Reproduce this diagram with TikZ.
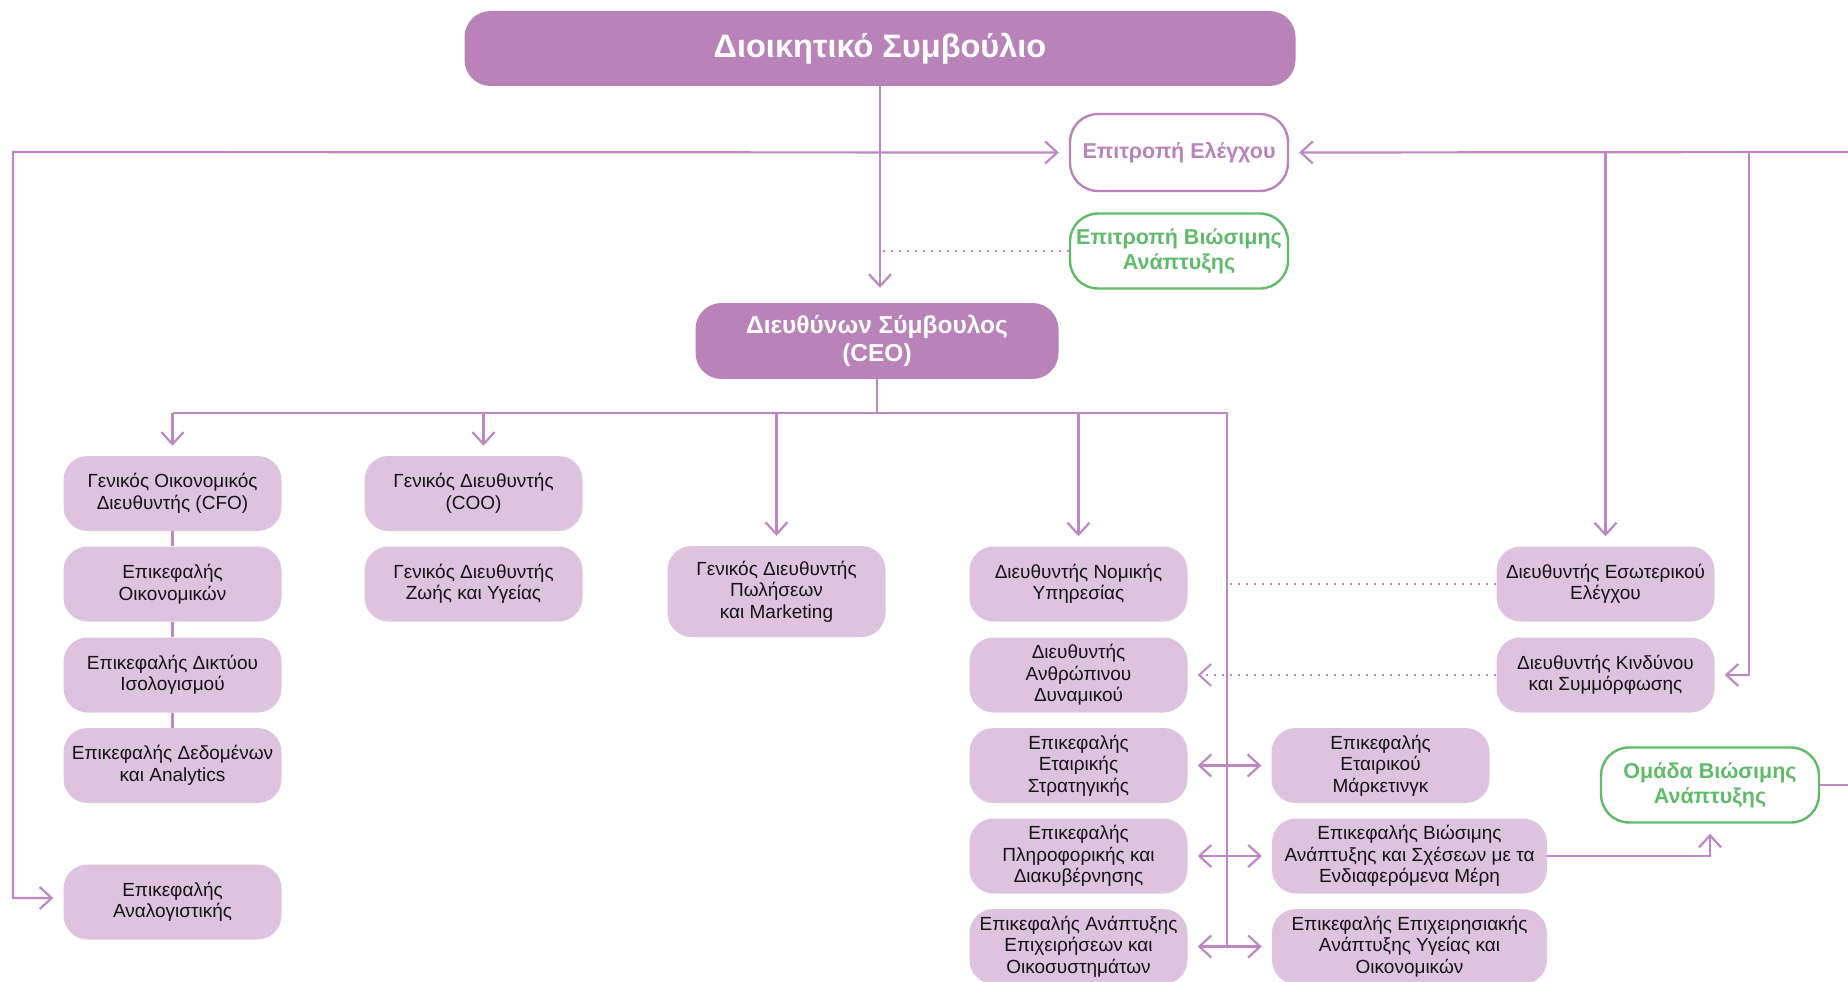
\documentclass[tikz,border=0pt]{standalone}
\usepackage{fontspec}
\setmainfont{Liberation Sans}
\usepackage{tikz}
\usetikzlibrary{arrows.meta,positioning,calc}
\definecolor{BoardPurple}{RGB}{185,130,185}
\definecolor{UnitLilac}{RGB}{221,195,223}
\definecolor{LinkPurple}{RGB}{190,135,195}
\definecolor{EsgGreen}{RGB}{95,187,105}
\definecolor{UnitText}{RGB}{20,20,20}

\tikzset{
  headbox/.style={fill=BoardPurple,text=white,rounded corners=26pt,align=center,inner sep=0pt,
    font=\bfseries\fontsize{32.5}{36}\selectfont},
  unitbox/.style={fill=UnitLilac,text=UnitText,rounded corners=24pt,align=center,inner sep=0pt,
    minimum width=218pt,minimum height=75pt,font=\fontsize{19}{21.5}\selectfont},
  cttbox/.style={fill=white,draw=#1,text=#1,line width=2.4pt,rounded corners=28pt,align=center,
    inner sep=0pt,minimum width=218pt,minimum height=75pt,font=\bfseries\fontsize{21.5}{25}\selectfont},
  link/.style={LinkPurple,line width=2.2pt},
  dotlink/.style={LinkPurple,line width=2pt,dash pattern=on 2pt off 6pt},
  arr/.style={link,->,shorten >=10pt},
  both/.style={link,<->,shorten >=10pt,shorten <=10pt}
}

\begin{document}
\begin{tikzpicture}[x=1pt,y=-1pt,>={Straight Barb[length=12pt,width=22pt]}]
  \useasboundingbox (0,0) rectangle (1848,982);
  \clip (0,0) rectangle (1848,982);

  \node[headbox,minimum width=831pt,minimum height=75pt] (board) at (880,48.5) {Διοικητικό Συμβούλιο};
  \node[headbox,minimum width=363pt,minimum height=76pt,font=\bfseries\fontsize{24.5}{28}\selectfont]
    (ceo) at (877,341) {Διευθύνων Σύμβουλος\\(CEO)};
  \node[cttbox=BoardPurple,minimum height=77pt] (audit) at (1179,152.5) {Επιτροπή Ελέγχου};
  \node[cttbox=EsgGreen] (sustcom) at (1179,251) {Επιτροπή Βιώσιμης\\Ανάπτυξης};

  \node[unitbox] (cfo) at (172.5,493.5) {Γενικός Οικονομικός\\Διευθυντής (CFO)};
  \node[unitbox] (fin) at (172.5,584) {Επικεφαλής\\Οικονομικών};
  \node[unitbox] (bal) at (172.5,675) {Επικεφαλής Δικτύου\\Ισολογισμού};
  \node[unitbox] (data) at (172.5,765.5) {Επικεφαλής Δεδομένων\\και Analytics};
  \node[unitbox] (act) at (172.5,902) {Επικεφαλής\\Αναλογιστικής};

  \node[unitbox] (coo) at (473.5,493.5) {Γενικός Διευθυντής\\(COO)};
  \node[unitbox] (life) at (473.5,584) {Γενικός Διευθυντής\\Ζωής και Υγείας};
  \node[unitbox,minimum height=91pt] (sales) at (776.5,591.5) {Γενικός Διευθυντής\\Πωλήσεων\\και Marketing};

  \node[unitbox] (legal) at (1078.5,584) {Διευθυντής Νομικής\\Υπηρεσίας};
  \node[unitbox] (hr) at (1078.5,675) {Διευθυντής\\Ανθρώπινου\\Δυναμικού};
  \node[unitbox] (strat) at (1078.5,765.5) {Επικεφαλής\\Εταιρικής\\Στρατηγικής};
  \node[unitbox] (it) at (1078.5,856) {Επικεφαλής\\Πληροφορικής και\\Διακυβέρνησης};
  \node[unitbox] (bizdev) at (1078.5,946.5) {Επικεφαλής Ανάπτυξης\\Επιχειρήσεων και\\Οικοσυστημάτων};

  \node[unitbox] (mkt) at (1380.5,765.5) {Επικεφαλής\\Εταιρικού\\Μάρκετινγκ};
  \node[unitbox,minimum width=275pt] (esg) at (1409.5,856) {Επικεφαλής Βιώσιμης\\Ανάπτυξης και Σχέσεων με τα\\Ενδιαφερόμενα Μέρη};
  \node[unitbox,minimum width=275pt] (health) at (1409.5,946.5) {Επικεφαλής Επιχειρησιακής\\Ανάπτυξης Υγείας και\\Οικονομικών};

  \node[unitbox] (intaudit) at (1605.5,584) {Διευθυντής Εσωτερικού\\Ελέγχου};
  \node[unitbox] (risk) at (1605.5,675) {Διευθυντής Κινδύνου\\και Συμμόρφωσης};
  \node[cttbox=EsgGreen] (esgteam) at (1710,785) {Ομάδα Βιώσιμης\\Ανάπτυξης};

  \coordinate (lft) at (13,152);
  \coordinate (rgt) at (1848,152);
  \coordinate (rskx) at (1749,152);
  \coordinate (busL) at (172.5,413);
  \coordinate (busR) at (1227,413);
  \coordinate (esgout) at (1848,785);

  \draw[arr,shorten >=15pt] (board) -- (board.south |- ceo.north);
  \draw[dotlink] (sustcom.west) -- (sustcom.west -| board.south);
  \draw[both] ([yshift=4pt]act.west) -| (lft) -- (audit.west);
  \draw[arr] (rgt) -- (audit.east);
  \draw[arr] (intaudit.north |- rgt) -- (intaudit.north);
  \draw[arr] (rskx) |- (risk.east);

  \draw[link] (ceo) -- (ceo.south |- busL);
  \draw[link] (busL) -- (busR) -- (busR |- bizdev);
  \draw[arr] (busL) -- (cfo);
  \draw[arr] ([xshift=10pt]coo.north |- busL) -- ([xshift=10pt]coo.north);
  \draw[arr] (sales.north |- busL) -- (sales);
  \draw[arr] (legal.north |- busL) -- (legal);
  \draw[link] (cfo) -- (fin) -- (bal) -- (data);

  \draw[dotlink] (intaudit.west) -- (intaudit.west -| busR);
  \draw[dotlink,->,shorten >=10pt] (risk.west) -- (hr.east);
  \draw[both] (strat) -- (mkt);
  \draw[both] (it) -- (esg);
  \draw[both] (bizdev) -- (health);
  \draw[arr] (esg) -| (esgteam);
  \draw[link] (esgteam.east) -- (esgout);
\end{tikzpicture}
\end{document}
